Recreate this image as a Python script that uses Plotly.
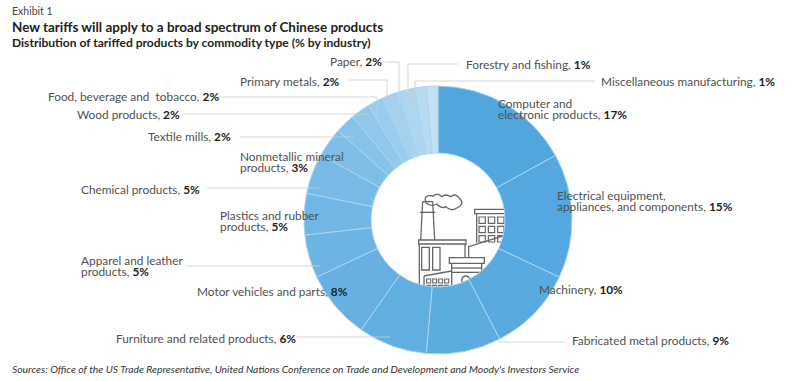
import plotly.graph_objects as go

W, H = 800, 381

# ---- data ----
categories = ["Computer and electronic products", "Electrical equipment, appliances, and components",
              "Machinery", "Fabricated metal products", "Furniture and related products",
              "Motor vehicles and parts", "Apparel and leather products", "Plastics and rubber products",
              "Chemical products", "Nonmetallic mineral products", "Textile mills", "Wood products",
              "Food, beverage and tobacco", "Primary metals", "Paper", "Forestry and fishing",
              "Miscellaneous manufacturing"]
# sector sizes
sector_sizes = [17, 15, 10.4, 9, 8.3, 8.3, 5.2, 5, 4.9, 3.5, 2.4, 2.3, 1.9, 2, 2, 1.4, 1.4]
# printed percentages
printed_pct = [17, 15, 10, 9, 6, 8, 5, 5, 5, 3, 2, 2, 2, 2, 2, 1, 1]
slice_colors = ["#52A6DE", "#55A8DF", "#59AAE0", "#5CACE0", "#61AEE1", "#66B1E2", "#6CB4E4", "#71B7E5",
                "#77BAE6", "#7EBEE7", "#87C2E9", "#90C7EB", "#99CCED", "#A3D1EE", "#ADD6F0", "#B8DBF2", "#C3E1F4"]

title = "New tariffs will apply to a broad spectrum of Chinese products"
subtitle = "Distribution of tariffed products by commodity type (% by industry)"
exhibit = "Exhibit 1"
source = "Sources: Office of the US Trade Representative, United Nations Conference on Trade and Development and Moody's Investors Service"

TEXT = "#505050"
DARK = "#222222"
FONT = "Lato"


def px(x):
    return x / W


def py(y):
    return 1 - y / H


annotations = []


def text(x, y, s, size=11.85, color=TEXT, anchor="left"):
    annotations.append(dict(x=px(x), y=py(y), xref="paper", yref="paper", text=s, showarrow=False,
                            xanchor=anchor, yanchor="middle", align="left", borderpad=0, borderwidth=0,
                            font=dict(family=FONT, size=size, color=color)))


def pct(i):
    return f"<b style='color:{DARK}'>{printed_pct[i]}%</b>"


# ---- layout of the labels: (category index, left x, centre y, line 1, optional line 2) ----
label_layout = [
    (0, 498, 109, "Computer and", "electronic products, "),
    (1, 557, 201, "Electrical equipment,", "appliances, and components, "),
    (2, 539, 289, None, "Machinery, "),
    (3, 572, 340, None, "Fabricated metal products, "),
    (4, 116, 338, None, "Furniture and related products, "),
    (5, 197, 291, None, "Motor vehicles and parts, "),
    (6, 81, 266, "Apparel and leather", "products, "),
    (7, 220, 221, "Plastics and rubber", "products, "),
    (8, 81, 189, None, "Chemical products, "),
    (9, 240, 162, "Nonmetallic mineral", "products, "),
    (10, 148, 137, None, "Textile mills, "),
    (11, 77, 114, None, "Wood products, "),
    (12, 48, 96, None, "Food, beverage and  tobacco, "),
    (13, 240, 81, None, "Primary metals, "),
    (14, 330, 62, None, "Paper, "),
    (15, 466, 64, None, "Forestry and fishing, "),
    (16, 601, 81, None, "Miscellaneous manufacturing, "),
]
for idx, x, y, l1, l2 in label_layout:
    if l1:
        text(x, y - 5.5, l1)
        text(x, y + 5.5, l2 + pct(idx))
    else:
        text(x, y, l2 + pct(idx))

text(12, 11, exhibit, size=10.5, color="#444444")
text(12, 27, f"<b>{title}</b>", size=13.45, color=DARK)
text(12, 43, f"<b>{subtitle}</b>", size=12.05, color=DARK)
text(12, 369, f"<i>{source}</i>", size=10.37, color="#333333")

# ---- leader lines ----
leaders = [
    [(595, 81), (415, 81), (415, 103)],
    [(458, 64), (408, 64), (408, 105)],
    [(385, 62), (399, 62), (399, 106)],
    [(347, 80), (387, 80), (387, 96)],
    [(218, 97), (377, 97), (377, 115)],
    [(184, 114), (368, 114)],
    [(240, 137), (353, 137)],
    [(207, 188), (319, 188)],
    [(186, 266), (320, 266)],
    [(296, 337), (390, 337)],
    [(565, 342), (497, 342)],
]


def path(points, close=False):
    d = "M " + " L ".join(f"{px(a)},{py(b)}" for a, b in points)
    return d + (" Z" if close else "")


shapes = [dict(type="path", path=path(p), xref="paper", yref="paper", opacity=0.8,
               line=dict(color="#cfcfcf", width=1), layer="above") for p in leaders]

# ---- factory pictogram, hidden by the ring where they overlap ----
ICON = "#666666"


def zx(x):
    return 300 + x / 3


def zy(y):
    return 70 + y / 3


def icon_line(pts, close=False, width=1.3):
    shapes.append(dict(type="path", path=path([(zx(a), zy(b)) for a, b in pts], close), xref="paper",
                       yref="paper", line=dict(color=ICON, width=width), layer="below"))


def icon_rect(x0, y0, x1, y1, width=1.3):
    icon_line([(x0, y0), (x1, y0), (x1, y1), (x0, y1)], True, width)


def cloud(points, bulges):
    n = len(points)
    d = f"M {px(zx(points[0][0]))},{py(zy(points[0][1]))}"
    for i in range(n):
        a = points[i]
        b = points[(i + 1) % n]
        c = bulges[i]
        d += f" Q {px(zx(c[0]))},{py(zy(c[1]))} {px(zx(b[0]))},{py(zy(b[1]))}"
    shapes.append(dict(type="path", path=d + " Z", xref="paper", yref="paper",
                       line=dict(color=ICON, width=1.3), layer="below"))


icon_line([(368, 395), (362, 510)])
icon_line([(398, 395), (404, 510)])
icon_line([(368, 395), (398, 395)])
icon_line([(360, 427), (406, 427)])
cloud([(378, 398), (400, 378), (425, 380), (452, 380), (478, 385), (470, 414), (438, 410), (410, 402)],
      [(368, 372), (412, 366), (438, 370), (466, 368), (496, 402), (452, 426), (425, 418), (392, 412)])
icon_rect(356, 510, 498, 522)
icon_line([(358, 522), (358, 680)])
icon_line([(495, 522), (495, 563)])
icon_rect(365, 532, 388, 600)
icon_rect(398, 532, 420, 600)
icon_line([(372, 618), (455, 603)])
icon_line([(372, 618), (372, 680)])
for col in range(4):
    for row in range(2):
        icon_rect(380 + col * 18, 627 + row * 19, 392 + col * 18, 639 + row * 19, 1.1)
icon_rect(448, 563, 553, 580)
icon_line([(455, 580), (455, 680)])
icon_line([(545, 580), (545, 680)])
icon_line([(455, 594), (545, 594)])
icon_line([(455, 607), (545, 607)])
shapes.append(dict(type="circle", xref="paper", yref="paper", x0=px(zx(485)), x1=px(zx(510)), y0=py(zy(618)),
                   y1=py(zy(643)), line=dict(color=ICON, width=1.3), layer="below"))
icon_rect(524, 418, 640, 431)
icon_line([(530, 431), (530, 518)])
for col in range(4):
    for row in range(3):
        icon_rect(537 + col * 28, 441 + row * 28, 556 + col * 28, 460 + row * 28, 1.2)
icon_line([(506, 560), (506, 530), (640, 488)])

fig = go.Figure(go.Pie(
    labels=categories, values=sector_sizes, sort=False, direction="clockwise", rotation=0, hole=0.5,
    marker=dict(colors=slice_colors, line=dict(color="#A8D5F1", width=1)),
    textinfo="none", hoverinfo="label+percent", showlegend=False,
    domain=dict(x=[px(304), px(572)], y=[py(354), py(86)]),
))
fig.update_layout(width=W, height=H, margin=dict(l=0, r=0, t=0, b=0), paper_bgcolor="white",
                  annotations=annotations, shapes=shapes, font=dict(family=FONT))
fig.write_html("out.html", config=dict(displayModeBar=False),
               post_script="document.body.style.margin='0';")
